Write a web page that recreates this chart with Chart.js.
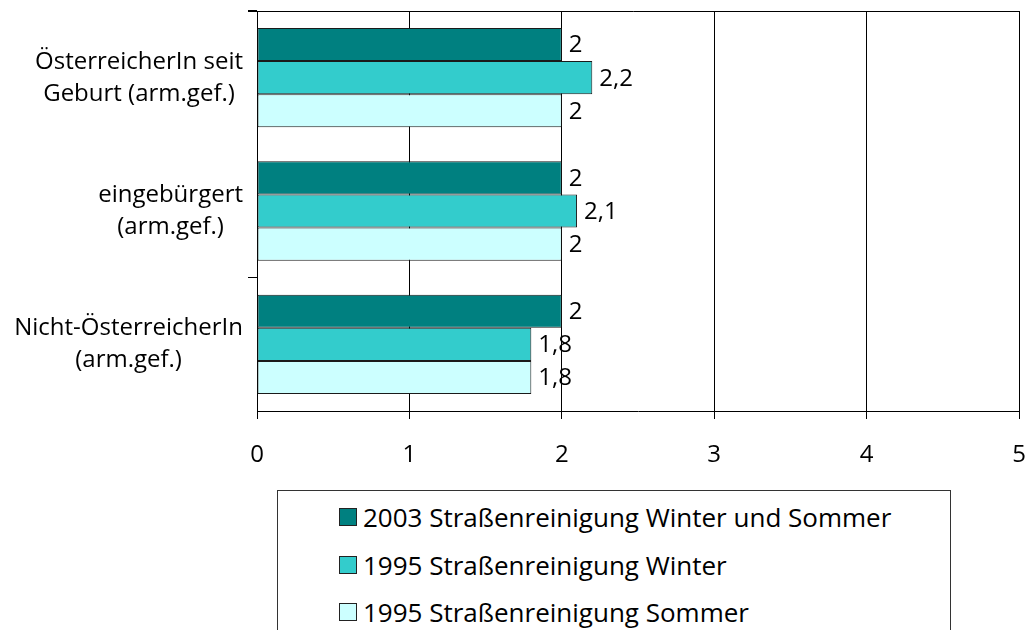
<!DOCTYPE html>
<html>
<head>
<meta charset="utf-8">
<script src="https://cdn.jsdelivr.net/npm/chart.js@4.4.0/dist/chart.umd.min.js"></script>
<style>
  html, body { margin: 0; padding: 0; background: #fff; }
  #wrap { position: relative; width: 1035px; height: 630px; overflow: hidden; font-family: "Open Sans", sans-serif; }
  #chart { position: absolute; left: 0; top: 0; }
  #legend { position: absolute; left: 277px; top: 490px; width: 674px; height: 200px; border: 1px solid #333; box-sizing: border-box; }
  #legend .row { position: absolute; left: 61px; height: 30px; display: flex; align-items: center; font-size: 26px; color: #000; white-space: nowrap; }
  #legend .sw { display: inline-block; width: 16px; height: 16px; border: 1px solid #222; margin-right: 6px; flex: none; }
</style>
</head>
<body>
<div id="wrap">
  <canvas id="chart" width="1035" height="480"></canvas>
  <div id="legend"></div>
</div>
<script>
(function(){
  'use strict';

  const categories = [
    ['ÖsterreicherIn seit', 'Geburt (arm.gef.)'],
    ['eingebürgert', '(arm.gef.)'],
    ['Nicht-ÖsterreicherIn', '(arm.gef.)']
  ];
  const seriesNames = [
    '2003 Straßenreinigung Winter und Sommer',
    '1995 Straßenreinigung Winter',
    '1995 Straßenreinigung Sommer'
  ];
  const series2003 = [2, 2, 2];
  const seriesWinter1995 = [2.2, 2.1, 1.8];
  const seriesSommer1995 = [2, 2, 1.8];
  const xTicks = [0, 1, 2, 3, 4, 5];
  const colors = ['#008080', '#33CCCC', '#CCFFFF'];

  const FONT = '"Open Sans", sans-serif';
  const fmt = (v) => String(v).replace('.', ',');

  // value labels right of each bar
  const valueLabels = {
    id: 'valueLabels',
    afterDatasetsDraw(chart) {
      const ctx = chart.ctx;
      ctx.save();
      ctx.font = '24px ' + FONT;
      ctx.fillStyle = '#000';
      ctx.textAlign = 'left';
      ctx.textBaseline = 'middle';
      chart.data.datasets.forEach((ds, i) => {
        chart.getDatasetMeta(i).data.forEach((bar, j) => {
          ctx.fillText(fmt(ds.data[j]), bar.x + 7, bar.y + 1);
        });
      });
      ctx.restore();
    }
  };

  // category labels: each block centred, right edge next to the axis
  const categoryLabels = {
    id: 'categoryLabels',
    afterDraw(chart) {
      const ctx = chart.ctx;
      const y = chart.scales.y;
      const right = chart.chartArea.left - 14;
      const lineH = 32;
      ctx.save();
      ctx.font = '24px ' + FONT;
      ctx.fillStyle = '#000';
      ctx.textAlign = 'center';
      ctx.textBaseline = 'middle';
      chart.data.labels.forEach((lines, i) => {
        const w = Math.max(...lines.map((s) => ctx.measureText(s).width));
        const cx = right - w / 2;
        const cy = y.getPixelForValue(i);
        lines.forEach((s, k) => {
          ctx.fillText(s, cx, cy + (k - (lines.length - 1) / 2) * lineH);
        });
      });
      ctx.restore();
    }
  };

  // top frame line of the plot area
  const topFrame = {
    id: 'topFrame',
    afterDraw(chart) {
      const a = chart.chartArea;
      const ctx = chart.ctx;
      ctx.save();
      ctx.strokeStyle = '#000';
      ctx.lineWidth = 1;
      ctx.beginPath();
      ctx.moveTo(a.left - 9, Math.round(a.top) + 0.5);
      ctx.lineTo(a.right + 0.5, Math.round(a.top) + 0.5);
      ctx.stroke();
      ctx.restore();
    }
  };

  const datasets = [series2003, seriesWinter1995, seriesSommer1995].map((data, i) => ({
    label: seriesNames[i],
    data,
    backgroundColor: colors[i],
    borderColor: '#1a1a1a',
    borderWidth: 1,
    borderSkipped: false,
    barPercentage: 1,
    categoryPercentage: 0.745
  }));

  new Chart(document.getElementById('chart'), {
    type: 'bar',
    data: { labels: categories, datasets },
    options: {
      indexAxis: 'y',
      responsive: false,
      animation: false,
      devicePixelRatio: 1,
      layout: { padding: { top: 11, right: 16, left: 0, bottom: 0 } },
      plugins: { legend: { display: false }, tooltip: { enabled: false } },
      scales: {
        x: {
          min: 0,
          max: 5,
          afterBuildTicks: (scale) => { scale.ticks = xTicks.map((v) => ({ value: v })); },
          afterFit: (scale) => {
            scale.height = 69;
            scale.paddingLeft = 0;
            scale.paddingRight = 0;
          },
          grid: { color: '#000', lineWidth: 1, tickLength: 8 },
          border: { color: '#000', width: 1 },
          ticks: { color: '#000', font: { family: FONT, size: 24 }, padding: 22, maxRotation: 0 }
        },
        y: {
          afterFit: (scale) => { scale.width = 257; },
          grid: {
            offset: true,
            drawOnChartArea: false,
            tickLength: 9,
            // only the marks at the top and above the last category are drawn
            tickColor: (c) => (c.type === 'tick' && (c.index === 0 || c.index === 2) ? '#000' : 'rgba(0,0,0,0)')
          },
          border: { color: '#000', width: 1 },
          ticks: { display: false }
        }
      }
    },
    plugins: [valueLabels, categoryLabels, topFrame]
  });

  // legend rows
  const legend = document.getElementById('legend');
  seriesNames.forEach((name, i) => {
    const row = document.createElement('div');
    row.className = 'row';
    row.style.top = (11 + i * 47.5) + 'px';
    row.innerHTML = `<span class="sw" style="background:${colors[i]}"></span>${name}`;
    legend.appendChild(row);
  });
})();
</script>
</body>
</html>
